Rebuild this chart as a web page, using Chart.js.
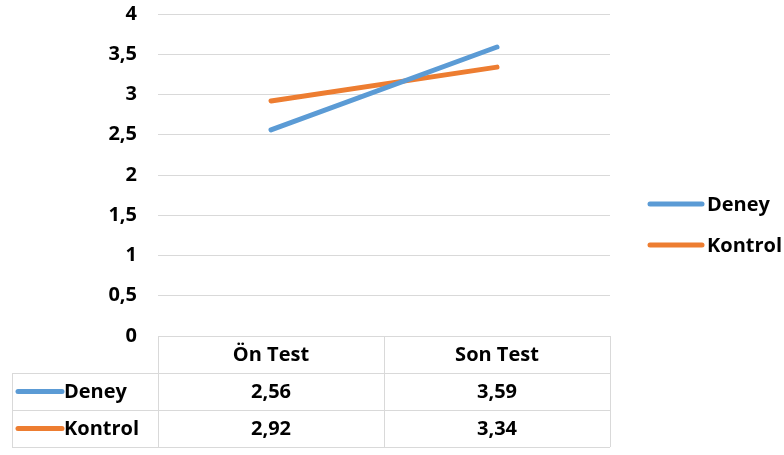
<!DOCTYPE html>
<html>
<head>
<meta charset="utf-8">
<script src="https://cdn.jsdelivr.net/npm/chart.js@4/dist/chart.umd.min.js"></script>
<style>
  html, body { margin: 0; padding: 0; background: #fff; }
  #wrap { width: 784px; height: 455px; }
</style>
</head>
<body>
<div id="wrap"><canvas id="grafico" width="784" height="455"></canvas></div>
<script>
// datos del grafico
const categorias = ["Ön Test", "Son Test"];
const deney = [2.56, 3.59];
const kontrol = [2.92, 3.34];
const seriesNombres = ["Deney", "Kontrol"];
const coloresSeries = ["#5b9bd5", "#ed7d31"];

const fuente = "'Open Sans', sans-serif";
const tamFuente = 20;
const colorGrid = "#d9d9d9";

function coma(v) {
  return String(v).replace(".", ",");
}

// tabla de datos y leyenda dibujadas debajo / al lado del area
const tablaPlugin = {
  id: "tablaDatos",
  afterDraw(chart) {
    const ctx = chart.ctx;
    const x = chart.scales.x;
    const area = chart.chartArea;
    const filaAlto = 37;
    const izq = 12;
    const top = area.bottom;
    const paso = (area.right - area.left) / categorias.length;

    ctx.save();
    ctx.strokeStyle = colorGrid;
    ctx.lineWidth = 1;
    ctx.beginPath();
    // horizontales
    for (let i = 1; i <= 3; i++) {
      const y = Math.round(top + filaAlto * i) + 0.5;
      ctx.moveTo(izq, y);
      ctx.lineTo(area.right, y);
    }
    // verticales
    ctx.moveTo(izq + 0.5, top + filaAlto);
    ctx.lineTo(izq + 0.5, top + filaAlto * 3);
    for (let i = 0; i <= categorias.length; i++) {
      const xx = Math.round(area.left + paso * i) + 0.5;
      ctx.moveTo(xx, top);
      ctx.lineTo(xx, top + filaAlto * 3);
    }
    ctx.stroke();

    ctx.fillStyle = "#000";
    ctx.font = "bold " + tamFuente + "px " + fuente;
    ctx.textAlign = "center";
    ctx.textBaseline = "middle";
    categorias.forEach((c, i) => {
      ctx.fillText(c, x.getPixelForValue(i), top + filaAlto / 2 + 1);
    });

    const series = [deney, kontrol];
    series.forEach((datos, s) => {
      const yc = top + filaAlto * (s + 1) + filaAlto / 2 + 1;
      ctx.strokeStyle = coloresSeries[s];
      ctx.lineWidth = 5;
      ctx.lineCap = "round";
      ctx.beginPath();
      ctx.moveTo(18, yc - 1);
      ctx.lineTo(62, yc - 1);
      ctx.stroke();
      ctx.textAlign = "left";
      ctx.fillText(seriesNombres[s], 64, yc);
      ctx.textAlign = "center";
      datos.forEach((v, i) => {
        ctx.fillText(coma(v), x.getPixelForValue(i), yc);
      });
    });

    // leyenda derecha
    seriesNombres.forEach((n, s) => {
      const y = 204 + s * 41;
      ctx.strokeStyle = coloresSeries[s];
      ctx.lineWidth = 5;
      ctx.lineCap = "round";
      ctx.beginPath();
      ctx.moveTo(650, y);
      ctx.lineTo(702, y);
      ctx.stroke();
      ctx.textAlign = "left";
      ctx.fillText(n, 707, y + 1);
    });
    ctx.restore();
  }
};

new Chart(document.getElementById("grafico").getContext("2d"), {
  type: "line",
  data: {
    labels: categorias,
    datasets: [
      {
        label: seriesNombres[0],
        data: deney,
        borderColor: coloresSeries[0],
        borderWidth: 5,
        borderCapStyle: "round",
        pointRadius: 0,
        tension: 0
      },
      {
        label: seriesNombres[1],
        data: kontrol,
        borderColor: coloresSeries[1],
        borderWidth: 5,
        borderCapStyle: "round",
        pointRadius: 0,
        tension: 0
      }
    ]
  },
  options: {
    responsive: false,
    animation: false,
    layout: { padding: { left: 0, right: 174, top: 14, bottom: 119 } },
    plugins: {
      legend: { display: false },
      tooltip: { enabled: false }
    },
    scales: {
      x: {
        type: "category",
        offset: true,
        display: false
      },
      y: {
        min: 0,
        max: 4,
        afterFit: s => { s.width = 158; },
        border: { display: false },
        grid: {
          color: colorGrid,
          lineWidth: 1,
          drawTicks: true,
          tickLength: 21,
          tickColor: "rgba(0,0,0,0)"
        },
        ticks: {
          stepSize: 0.5,
          padding: 0,
          color: "#000",
          font: { family: fuente, size: tamFuente, weight: "bold" },
          callback: v => coma(v)
        }
      }
    }
  },
  plugins: [tablaPlugin]
});
</script>
</body>
</html>
